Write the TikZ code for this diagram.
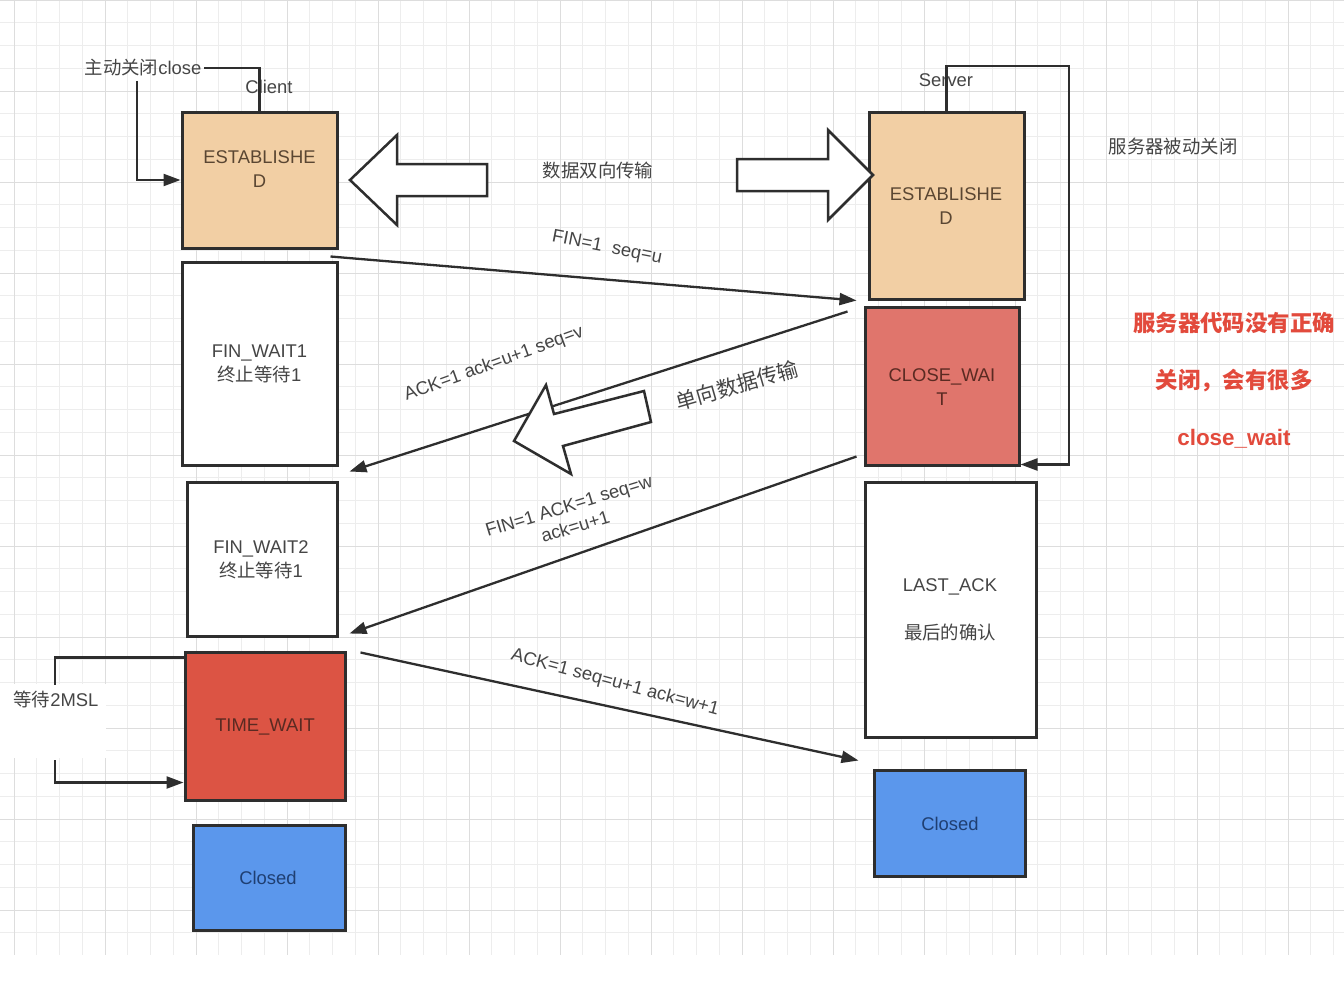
\documentclass[tikz,border=0pt]{standalone}
\usepackage{fontspec}
\setmainfont{Liberation Sans}
\newfontfamily\cjk{Noto Sans CJK SC}
\usetikzlibrary{arrows.meta,calc}
\definecolor{gridminor}{HTML}{EDEDED}
\definecolor{gridmajor}{HTML}{DDDDDD}
\definecolor{ink}{HTML}{2E2E2E}
\definecolor{txt}{HTML}{454545}
\definecolor{peach}{HTML}{F2CFA4}
\definecolor{twred}{HTML}{DC5444}
\definecolor{cwred}{HTML}{E0756C}
\definecolor{blu}{HTML}{5B97EC}
\definecolor{redtxt}{HTML}{E24A3C}
\definecolor{peachtxt}{HTML}{5A4632}
\definecolor{redboxtxt}{HTML}{5A2A22}
\definecolor{bluetxt}{HTML}{1F3F72}
\begin{document}
\begin{tikzpicture}[x=0.5pt,y=-0.5pt,
  state/.style={draw=ink,line width=1.5pt,inner sep=0pt},
  lbl/.style={text=txt,font=\fontsize{9.2}{12}\selectfont,inner sep=1pt,align=center},
  redlbl/.style={text=redtxt,font=\fontsize{11.2}{13}\selectfont\bfseries,inner sep=1pt},
  arr/.style={draw=ink,line width=1.15pt,-{Triangle[length=8.5pt,width=6pt]}},
  link/.style={draw=ink,line width=1.15pt},
  fat/.style={draw=ink,line width=1.25pt,fill=white,line join=miter},
]
\useasboundingbox (0,0) rectangle (1344,980);
\fill[white] (0,0) rectangle (1344,980);
% grid
\foreach \k in {0,...,59} {\pgfmathsetmacro\xx{14+\k*22.75}
  \draw[gridminor,line width=0.5pt] (\xx,0) -- (\xx,955);}
\foreach \k in {0,...,41} {\pgfmathsetmacro\yy{\k*22.75}
  \draw[gridminor,line width=0.5pt] (0,\yy) -- (1344,\yy);}
\foreach \k in {0,...,14} {\pgfmathsetmacro\xx{14+\k*91}
  \draw[gridmajor,line width=0.5pt] (\xx,0) -- (\xx,955);}
\foreach \k in {0,...,10} {\pgfmathsetmacro\yy{\k*91}
  \draw[gridmajor,line width=0.5pt] (0,\yy) -- (1344,\yy);}
\fill[white] (0,684) rectangle (106,758);

% state boxes
\node[state,fill=peach,minimum width=77.5pt,minimum height=68pt] (cest) at (259.5,180) {};
\node[state,fill=white,minimum width=77.5pt,minimum height=101.5pt] (fw1) at (259.5,363.5) {};
\node[state,fill=white,minimum width=75pt,minimum height=77pt] (fw2) at (262,559) {};
\node[state,fill=twred,minimum width=80pt,minimum height=74pt] (tw) at (265,726) {};
\node[state,fill=blu,minimum width=76pt,minimum height=52.5pt] (clL) at (269,877.5) {};
\node[state,fill=peach,minimum width=77.5pt,minimum height=93.5pt] (sest) at (946.5,205.5) {};
\node[state,fill=cwred,minimum width=77pt,minimum height=79pt] (cw) at (942,386) {};
\node[state,fill=white,minimum width=85.5pt,minimum height=127.5pt] (la) at (950.5,609.5) {};
\node[state,fill=blu,minimum width=75.5pt,minimum height=53pt] (clR) at (949.5,823) {};

% box texts
\node[lbl,text=peachtxt] (cestT) at (259.5,169) {ESTABLISHE\\D};
\node[lbl] (fw1T) at (259.5,364) {FIN\_WAIT1\\{\cjk 终止等待}1};
\node[lbl] (fw2T) at (261,560) {FIN\_WAIT2\\{\cjk 终止等待}1};
\node[lbl,text=redboxtxt] (twT) at (265,727) {TIME\_WAIT};
\node[lbl,text=bluetxt] (clLT) at (268,878) {Closed};
\node[lbl,text=peachtxt] (sestT) at (946,206) {ESTABLISHE\\D};
\node[lbl,text=redboxtxt] (cwT) at (942,387) {CLOSE\_WAI\\T};
\node[lbl] (laT) at (950,609.5) {LAST\_ACK\\[12pt]{\cjk 最后的确认}};
\node[lbl,text=bluetxt] (clRT) at (950,824) {Closed};

% outside labels
\node[lbl] (closeLbl) at (143,68) {{\cjk 主动关闭}close};
\node[lbl] (clientLbl) at (269,87) {Client};
\node[lbl] (serverLbl) at (946,80) {Server};
\node[lbl] (passiveLbl) at (1173,147) {\cjk 服务器被动关闭};
\node[lbl] (mslLbl) at (56,699) {{\cjk 等待}2MSL};

% loops
\draw[link] (cest.north) |- (closeLbl.east);
\draw[arr] ($(closeLbl.south)+(-6,2)$) |- (cest.west);
\coordinate (srvTop) at (1069,66);
\draw[arr] (sest.north) |- (srvTop) |- ($(cw.south east)+(0,-2)$);
\coordinate (mslTop) at (55,685);
\coordinate (mslBot) at (55,760);
\draw[link] ($(tw.north west)+(0,7)$) -| (mslTop);
\draw[arr] (mslBot) |- ($(tw.south west)+(0,-19)$);

% messages
\draw[arr] ($(cest.south east)+(-8,7)$) -- ($(sest.south west)+(-11,0)$);
\draw[arr] ($(cw.north west)+(-16,6)$) -- ($(fw1.south east)+(11,5)$);
\draw[arr] ($(cw.south west)+(-7,-10)$) -- ($(fw2.south east)+(11,-4)$);
\draw[arr] ($(tw.north east)+(14,2)$) -- ($(clR.north west)+(-14,-8)$);

% block arrows
\draw[fat] (350,180) -- (397,135) -- (397,164) -- (487,164) -- (487,196) -- (397,196) -- (397,225) -- cycle;
\draw[fat] (873,175) -- (828,130) -- (828,159) -- (737,159) -- (737,191) -- (828,191) -- (828,220) -- cycle;
\draw[fat] (514,441) -- (546,385) -- (554,414) -- (644,391) -- (651,422) -- (563,446) -- (571,474) -- cycle;

% message labels
\node[lbl] (bidirLbl) at (598,171) {\cjk 数据双向传输};
\node[lbl,font=\fontsize{10.5}{12}\selectfont,rotate=16] (unidirLbl) at (737,385) {\cjk 单向数据传输};
\node[lbl,rotate=-11] (finLbl) at (607,248) {FIN=1\ \ seq=u};
\node[lbl,rotate=20] (ackLbl) at (494,364) {ACK=1 ack=u+1 seq=v};
\node[lbl,rotate=17,font=\fontsize{9.2}{11}\selectfont] (fin2Lbl) at (572,516) {FIN=1 ACK=1 seq=w\\ack=u+1};
\node[lbl,rotate=-15] (ack2Lbl) at (615,683) {ACK=1 seq=u+1 ack=w+1};

% red notes
\node[redlbl] (note1) at (1234,323) {\cjk 服务器代码没有正确};
\node[redlbl] (note2) at (1234,381) {\cjk 关闭，会有很多};
\node[redlbl] (note3) at (1234,439) {close\_wait};
\end{tikzpicture}
\end{document}
